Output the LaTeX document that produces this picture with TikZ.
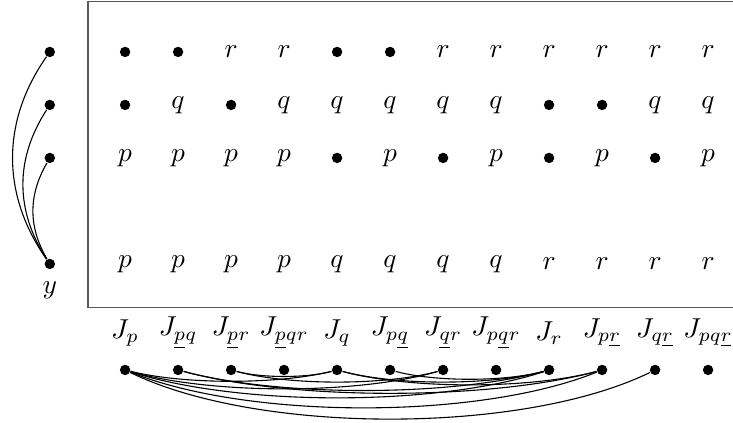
\documentclass[tikz,border=0pt]{standalone}
\usepackage{amsmath, amssymb}
\usepackage{tikz}
\usetikzlibrary{positioning}

\begin{document}
\begin{tikzpicture}[x=0.68cm, y=0.68cm,
    vdot/.style={circle, fill, inner sep=0pt, minimum size=3.8pt}]
      \useasboundingbox (-2.36,0.98) rectangle (11.47,-7.0);
      % the table (runs off to the right)
      \draw[black!65] (-0.7,0.96) rectangle (11.8,-4.83);
      % rows of the table, o = dot
      \foreach \e [count=\i] in {o,o,r,r,o,o,r,r,r,r,r,r}{
        \if o\e \node[vdot] (r\i) at (\i-1,0) {}; \else \node (r\i) at (\i-1,0) {$\e$}; \fi
      }
      \foreach \e [count=\i] in {o,q,o,q,q,q,q,q,o,o,q,q}{
        \if o\e \node[vdot] (q\i) at (\i-1,-1) {}; \else \node (q\i) at (\i-1,-1) {$\e$}; \fi
      }
      \foreach \e [count=\i] in {p,p,p,p,o,p,o,p,o,p,o,p}{
        \if o\e \node[vdot] (p\i) at (\i-1,-2) {}; \else \node (p\i) at (\i-1,-2) {$\e$}; \fi
      }
      \foreach \e [count=\i] in {p,p,p,p,q,q,q,q,r,r,r,r}
        \node (v\i) at (\i-1,-4) {$\e$};
      % the variables on the left
      \node[vdot] (a1) at (-1.42,0) {};
      \node[vdot] (a2) at (-1.42,-1) {};
      \node[vdot] (a3) at (-1.42,-2) {};
      \node[vdot] (y0) at (-1.42,-4) {};
      \node[below=1pt of y0] (ylab) {$y$};
      \draw (y0) to[bend left=35] (a1);
      \draw (y0) to[bend left=33] (a2);
      \draw (y0) to[bend left=30] (a3);
      % the J's
      \foreach \t [count=\i] in {{J_p},{J_{\underline{p}q}},{J_{\underline{p}r}},{J_{\underline{p}qr}},
          {J_q},{J_{p\underline{q}}},{J_{\underline{q}r}},{J_{p\underline{q}r}},
          {J_r},{J_{p\underline{r}}},{J_{q\underline{r}}},{J_{pq\underline{r}}}}{
        \node (l\i) at (\i-1,-5.3) {$\t$};
        \node[vdot] (j\i) at (\i-1,-6) {};
      }
      \foreach \a/\b/\ang in {1/5/14,1/7/16,1/9/18,1/10/22,1/11/26,2/9/15,2/10/15,
          3/5/15,3/7/15,5/9/15,5/10/15,6/9/15}
        \draw (j\a) to[bend right=\ang, looseness=0.7] (j\b);
    \end{tikzpicture}
\end{document}
